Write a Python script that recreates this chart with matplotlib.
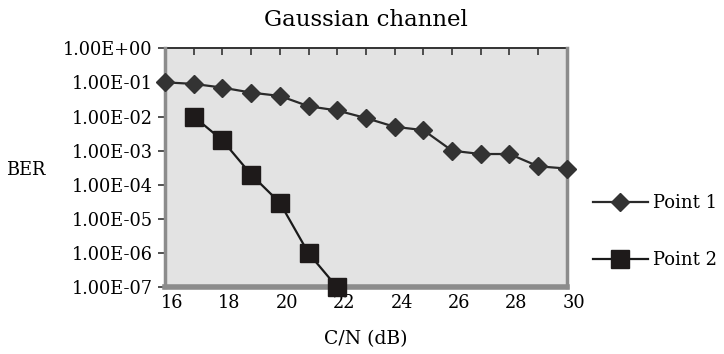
"""
Gaussian channel BER vs C/N, written to out.png
"""
import matplotlib.pyplot as plt
from matplotlib.transforms import ScaledTranslation

# C/N categories (dB) and BER values
cn_point1 = [16, 17, 18, 19, 20, 21, 22, 23, 24, 25, 26, 27, 28, 29, 30]
ber_point1 = [1e-1, 9e-2, 7e-2, 5e-2, 4e-2, 2e-2, 1.5e-2, 9e-3, 5e-3, 4e-3,
              1e-3, 8e-4, 8e-4, 3.5e-4, 3e-4]
cn_point2 = [17, 18, 19, 20, 21, 22]
ber_point2 = [1e-2, 2e-3, 2e-4, 3e-5, 1e-6, 1e-7]

x_ticks = [16, 18, 20, 22, 24, 26, 28, 30]
y_ticks = [1e0, 1e-1, 1e-2, 1e-3, 1e-4, 1e-5, 1e-6, 1e-7]
y_labels = ["1.00E+00", "1.00E-01", "1.00E-02", "1.00E-03",
            "1.00E-04", "1.00E-05", "1.00E-06", "1.00E-07"]


def main():
    plt.rcParams["font.family"] = ["DejaVu Serif"]
    fig = plt.figure(figsize=(7.24, 3.54), dpi=100)
    ax = fig.add_axes([0.228, 0.188, 0.555, 0.676])
    ax.set_facecolor("#e3e3e3")

    l1, = ax.plot(cn_point1, ber_point1, color="#2a2a2a", lw=1.6,
                  marker="D", ms=9.3, mfc="#333333", mec="#333333",
                  label="Point 1", clip_on=False, zorder=3)
    l2, = ax.plot(cn_point2, ber_point2, color="#1a1a1a", lw=1.6,
                  marker="s", ms=12.5, mfc="#1e1a1a", mec="#1e1a1a",
                  label="Point 2", clip_on=False, zorder=4)

    ax.set_yscale("log")
    ax.set_ylim(1e-7, 1e0)
    ax.set_xlim(16, 30)
    ax.set_yticks(y_ticks)
    ax.set_yticklabels(y_labels)
    ax.minorticks_off()
    ax.set_xticks(x_ticks)
    ax.set_xticklabels([str(v) for v in x_ticks])
    ax.tick_params(axis="y", labelsize=12.8, length=5, width=1.2,
                   color="#333333", pad=4)
    ax.tick_params(axis="x", labelsize=12.8, length=0, pad=5)
    shift = ScaledTranslation(5 / 72, 0, fig.dpi_scale_trans)
    for lbl in ax.get_xticklabels():
        lbl.set_transform(lbl.get_transform() + shift)

    # category ticks hanging from the top edge
    top = ax.secondary_xaxis("top")
    top.set_xticks(cn_point1)
    top.tick_params(direction="in", length=5, width=1.2, color="#333333",
                    labeltop=False)
    top.spines["top"].set_color("#333333")
    top.spines["top"].set_linewidth(1.4)

    for side in ["left", "right"]:
        ax.spines[side].set_color("#8c8c8c")
        ax.spines[side].set_linewidth(2.5)
    ax.spines["bottom"].set_color("#8c8c8c")
    ax.spines["bottom"].set_linewidth(4)
    ax.spines["top"].set_visible(False)

    ax.set_title("Gaussian channel", fontsize=16.5, pad=16)
    ax.set_xlabel("C/N (dB)", fontsize=13.5, labelpad=13)
    fig.text(0.035, 0.52, "BER", fontsize=12.8, ha="center", va="center")

    fig.legend(handles=[l1, l2], loc="center left",
               bbox_to_anchor=(0.819, 0.345), frameon=False, borderpad=0,
               borderaxespad=0, fontsize=13, labelspacing=2.15,
               handlelength=3.05, handletextpad=0.3)

    fig.savefig("out.png", dpi=100)
    plt.close(fig)


if __name__ == "__main__":
    main()
